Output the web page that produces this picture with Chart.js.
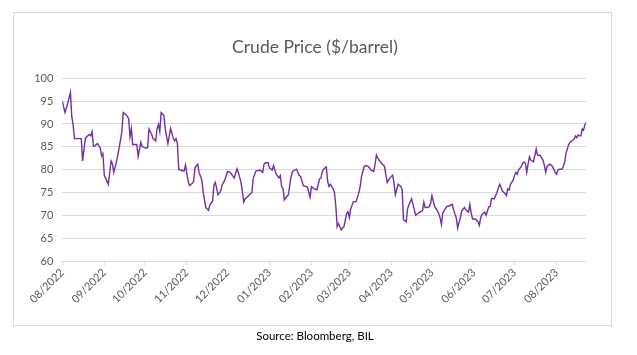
<!DOCTYPE html>
<html><head><meta charset="utf-8">
<script src="https://cdn.jsdelivr.net/npm/chart.js@4.4.0/dist/chart.umd.min.js"></script>
<style>
html,body{margin:0;padding:0;background:#fff;}
#wrap{position:relative;width:637px;height:355px;}
#frame{position:absolute;left:13px;top:12px;width:597px;height:312px;border:1px solid #d9d9d9;pointer-events:none;}
canvas{position:absolute;left:0;top:0;}
</style></head><body>
<div id="wrap"><canvas id="c" width="637" height="355"></canvas><div id="frame"></div></div>
<script>
// Data: days since startDate and WTI price ($/barrel)
const startDate = '2022-08-24';
const dayOffsets = [0,2,4,6,7,8,9,14,15,17,18,20,21,22,23,24,26,28,29,30,31,34,36,37,38,40,41,43,44,45,47,49,50,51,52,55,56,58,59,62,63,64,66,67,69,70,71,72,73,75,76,78,80,82,83,84,85,86,88,90,91,93,94,96,97,98,100,101,103,104,106,107,108,109,111,112,113,114,115,117,118,120,122,124,127,129,130,132,133,134,135,140,141,143,146,148,149,150,152,153,155,156,157,158,160,161,162,163,164,165,167,168,169,170,173,175,176,178,181,183,184,186,188,190,191,192,193,194,195,196,197,198,200,201,202,203,204,206,207,208,210,211,212,213,215,217,219,220,221,223,224,226,228,230,231,232,233,234,235,237,238,239,240,241,242,244,245,246,248,250,251,252,254,255,256,258,261,263,264,266,267,268,269,271,272,273,275,276,278,279,280,281,283,284,286,288,289,291,292,293,294,295,297,298,300,301,302,303,305,307,308,309,310,312,313,315,316,317,319,321,323,324,325,327,328,329,330,331,333,334,335,336,337,339,340,341,342,343,344,345,346,348,349,350,351,353,354,355,356,357,358,360,361,362,364,365,366,367,369,370,371,372,374,375,377,378,379,380,381,382,383,384,385,386,387];
const prices = [95.0,92.5,94.5,96.9,91.6,89.8,86.8,86.8,81.9,86.8,87.2,87.7,87.4,88.3,85.1,85.2,85.7,84.8,83.0,83.5,78.8,76.8,81.9,81.3,79.4,81.7,83.2,86.5,88.3,92.5,92.1,91.2,87.2,89.0,85.5,85.5,82.9,86.0,85.0,84.7,84.8,88.9,87.7,86.8,86.3,89.0,89.9,88.3,92.5,91.9,89.0,85.7,89.0,86.8,86.3,86.8,85.7,80.1,79.8,79.7,81.0,77.4,76.5,77.0,77.4,80.4,81.2,79.4,77.8,75.2,71.7,71.4,71.1,72.3,73.1,76.6,77.2,75.9,74.5,75.3,76.6,77.7,79.6,79.4,78.2,80.2,79.4,77.2,75.2,72.9,73.6,75.0,78.1,79.7,79.9,79.4,81.2,81.5,81.5,80.4,79.9,80.9,79.9,79.0,78.2,78.7,76.3,75.9,73.4,73.8,74.5,76.6,78.5,79.6,80.1,78.7,78.5,76.5,76.2,74.0,76.3,75.8,75.6,78.0,78.1,79.6,80.1,80.4,80.6,77.4,76.3,76.8,75.8,75.0,72.1,67.5,68.2,66.8,67.3,67.5,70.4,70.8,69.5,71.4,73.0,73.0,75.0,76.3,78.5,80.7,80.9,80.7,79.9,79.6,81.2,83.2,82.5,82.1,81.6,81.0,80.7,78.8,77.2,77.7,78.2,78.8,77.0,74.5,76.8,76.3,75.6,69.0,68.6,71.4,72.3,73.6,70.0,70.5,70.7,71.0,72.9,71.7,71.7,71.9,72.6,74.3,71.9,71.5,70.4,69.5,68.0,70.5,71.5,71.9,72.1,72.4,71.2,69.4,67.2,68.5,69.4,71.0,71.7,71.2,70.7,72.4,70.5,69.2,69.2,68.6,67.8,69.5,70.2,70.7,70.0,71.9,71.9,73.7,73.6,75.0,76.8,76.2,75.3,74.8,74.3,75.8,75.6,76.8,77.7,78.8,79.4,79.0,79.9,80.7,81.4,81.7,81.4,79.4,81.2,82.8,82.1,81.7,83.1,84.5,83.2,83.1,82.6,82.1,81.0,79.4,80.7,81.2,81.0,80.7,79.4,79.0,79.9,80.1,80.1,80.7,81.6,83.6,85.5,86.0,86.5,86.7,87.4,87.0,87.6,87.4,87.4,88.9,88.7,89.9,90.3];
const tickLabels = ['08/2022','09/2022','10/2022','11/2022','12/2022','01/2023','02/2023','03/2023','04/2023','05/2023','06/2023','07/2023','08/2023'];
const yMin = 60, yMax = 100, yStep = 5;

const start = new Date(startDate + 'T00:00:00Z');
const startDay = start.getUTCDate();
const tickDays = tickLabels.map(l => {
  const [m, y] = l.split('/').map(Number);
  return Math.round((Date.UTC(y, m - 1, startDay) - start.getTime()) / 86400000);
});
const lastDay = dayOffsets[dayOffsets.length - 1];
const FONT = 'Lato, "Open Sans", sans-serif';

new Chart(document.getElementById('c'), {
  type: 'line',
  data: { datasets: [{
    data: dayOffsets.map((d, i) => ({ x: d, y: prices[i] })),
    borderColor: '#7030A0', borderWidth: 1.4, pointRadius: 0, tension: 0, fill: false
  }]},
  options: {
    responsive: false, animation: false, devicePixelRatio: 1,
    layout: { padding: { left: 0, right: 7, top: 0, bottom: 0 } },
    plugins: {
      legend: { display: false }, tooltip: { enabled: false },
      title: { display: true, text: 'Crude Price ($/barrel)', color: '#595959',
        font: { family: FONT, size: 17.5, weight: 'normal' }, padding: { top: 36.5, bottom: 20.8 } },
      subtitle: { display: true, position: 'bottom', text: 'Source: Bloomberg, BIL', color: '#000',
        font: { family: FONT, size: 11.5, weight: 'normal' }, padding: { top: 0, bottom: 12.1 } }
    },
    scales: {
      x: {
        type: 'linear', min: 0, max: lastDay,
        afterBuildTicks: s => { s.ticks = tickDays.map(v => ({ value: v })); },
        afterFit: s => { s.height = 68.1; },
        ticks: { autoSkip: false, maxRotation: 45, minRotation: 45, color: '#595959', padding: 1,
          font: { family: FONT, size: 11 }, callback: (v, i) => tickLabels[i] },
        grid: { display: true, drawOnChartArea: false, drawTicks: true, tickLength: 4, color: '#d9d9d9' },
        border: { display: true, color: '#d9d9d9' }
      },
      y: {
        min: yMin, max: yMax,
        afterFit: s => { s.width = 62.3; },
        ticks: { stepSize: yStep, color: '#595959', padding: 9, font: { family: FONT, size: 11 } },
        grid: { color: '#d9d9d9', drawTicks: false },
        border: { display: false }
      },
      spacer: {
        position: 'right', display: true,
        afterFit: s => { s.width = 43.7; },
        ticks: { display: false }, grid: { display: false }, border: { display: false }
      }
    }
  }
});
</script>
</body></html>
